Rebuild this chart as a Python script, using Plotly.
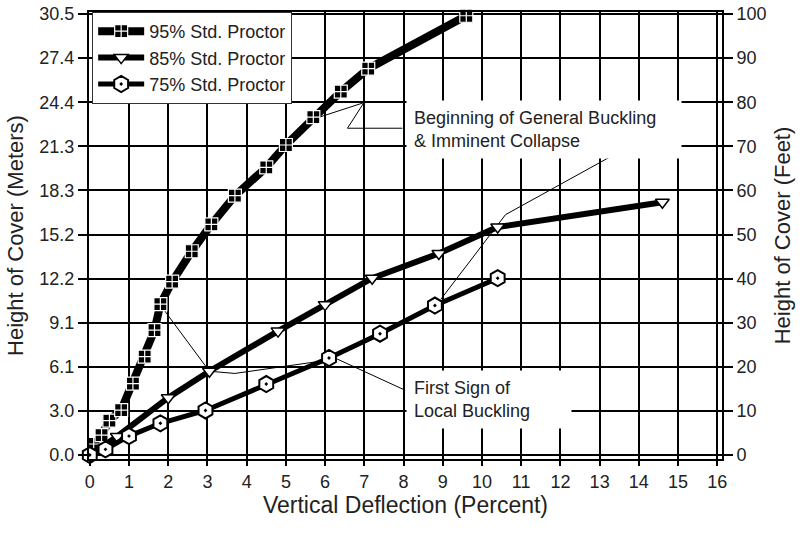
import plotly.graph_objects as go

# 95% Std. Proctor
defl_95 = [0, 0.1, 0.3, 0.5, 0.8, 1.1, 1.4, 1.65, 1.8, 2.1, 2.6, 3.1, 3.7, 4.5, 5.0, 5.7, 6.4, 7.1, 9.6]
cover_95 = [0, 2.5, 4.5, 7.8, 10.2, 16.2, 22.3, 28.3, 34.2, 39.3, 46.2, 52.3, 58.8, 65.2, 70.3, 76.6, 82.4, 87.6, 99.6]
# 85% Std. Proctor
defl_85 = [0, 0.7, 2.0, 3.05, 4.8, 6.0, 7.2, 8.9, 10.4, 14.6]
cover_85 = [0, 4.2, 13.0, 19.0, 28.1, 34.1, 40.1, 45.7, 51.7, 57.3]
# 75% Std. Proctor
defl_75 = [0, 0.4, 1.0, 1.8, 2.95, 4.5, 6.1, 7.4, 8.8, 10.4]
cover_75 = [0, 1.3, 4.3, 7.2, 10.1, 16.1, 22.0, 27.5, 33.9, 40.1]

# leader lines of the two notes
general_a_x = [7.97, 6.57, 6.99, 5.85]
general_a_y = [74.1, 74.1, 79.9, 76.6]
general_b_x = [13.3, 14.0, 10.6, 8.95]
general_b_y = [71.2, 71.2, 54.5, 35.3]
local_x = [8.04, 6.3, 3.7, 3.05, 1.9]
local_y = [14.7, 21.8, 18.5, 19.0, 32.8]

feet_ticks = [0, 10, 20, 30, 40, 50, 60, 70, 80, 90, 100]
meter_labels = ["0.0", "3.0", "6.1", "9.1", "12.2", "15.2", "18.3", "21.3", "24.4", "27.4", "30.5"]
x_ticks = list(range(0, 17))

font = "Liberation Sans, Arial, sans-serif"

fig = go.Figure()

for x, y in [(general_a_x, general_a_y), (general_b_x, general_b_y), (local_x, local_y)]:
    fig.add_trace(go.Scatter(x=x, y=y, mode="lines", line=dict(color="black", width=1),
                             showlegend=False, hoverinfo="skip"))

fig.add_trace(go.Scatter(x=defl_95, y=cover_95, name="95% Std. Proctor", mode="lines+markers",
                         line=dict(color="black", width=8),
                         marker=dict(symbol="square-cross", size=13, color="black",
                                     line=dict(color="white", width=1.2)),
                         cliponaxis=False))
fig.add_trace(go.Scatter(x=defl_85, y=cover_85, name="85% Std. Proctor", mode="lines+markers",
                         line=dict(color="black", width=6),
                         marker=dict(symbol="triangle-down", size=12, color="white",
                                     line=dict(color="black", width=1.5)),
                         cliponaxis=False))
fig.add_trace(go.Scatter(x=defl_75, y=cover_75, name="75% Std. Proctor", mode="lines+markers",
                         line=dict(color="black", width=5),
                         marker=dict(symbol="hexagon-dot", size=16, color="white",
                                     line=dict(color="black", width=2)),
                         cliponaxis=False))
# invisible trace to carry the right-hand (feet) axis
fig.add_trace(go.Scatter(x=[0], y=[0], yaxis="y2", mode="markers", marker=dict(opacity=0),
                         showlegend=False, hoverinfo="skip"))

fig.add_annotation(x=8.05, y=80.5, xref="x", yref="y", xanchor="left", yanchor="top",
                   text="Beginning of General Buckling<br>& Imminent Collapse",
                   showarrow=False, align="left", bgcolor="white", borderpad=7, width=260,
                   font=dict(family=font, size=18, color="#222"))
fig.add_annotation(x=8.05, y=19.3, xref="x", yref="y", xanchor="left", yanchor="top",
                   text="First Sign of<br>Local Buckling",
                   showarrow=False, align="left", bgcolor="white", borderpad=7, width=150,
                   font=dict(family=font, size=18, color="#222"))

axis_common = dict(showline=True, linecolor="black", linewidth=2, ticks="outside", automargin=False,
                   ticklabeloverflow="allow", tickcolor="black", tickwidth=1.5,
                   tickfont=dict(family=font, size=18, color="#222"))

fig.update_layout(
    width=812, height=533,
    margin=dict(l=89, r=90, t=12, b=74),
    paper_bgcolor="white", plot_bgcolor="white",
    font=dict(family=font, color="#222"),
    xaxis=dict(range=[-0.02, 16.12], tickvals=x_ticks, showgrid=True, gridcolor="black", gridwidth=1.8,
               zeroline=False, mirror=True, ticklen=5,
               title=dict(text="Vertical Deflection (Percent)", font=dict(family=font, size=23), standoff=4),
               **axis_common),
    yaxis=dict(range=[-0.9, 100.45], tickvals=feet_ticks, ticktext=meter_labels, showgrid=True,
               gridcolor="black", gridwidth=1.8, zeroline=False, ticklen=9,
               title=dict(text="Height of Cover (Meters)", font=dict(family=font, size=22), standoff=10),
               **axis_common),
    yaxis2=dict(range=[-0.9, 100.45], tickvals=feet_ticks, overlaying="y", side="right",
                showgrid=False, zeroline=False, ticklen=9,
                title=dict(text="Height of Cover (Feet)", font=dict(family=font, size=22), standoff=9),
                **axis_common),
    legend=dict(x=0.005, y=1.0, xanchor="left", yanchor="top", bgcolor="white",
                bordercolor="#333", borderwidth=1, itemwidth=46,
                font=dict(family=font, size=18, color="#222"), tracegroupgap=0),
    showlegend=True,
)

# drop the default 8px body margin so the figure fills the window exactly
fig.write_html("out.html", config={"displayModeBar": False},
               post_script="document.body.style.margin = '0';")
